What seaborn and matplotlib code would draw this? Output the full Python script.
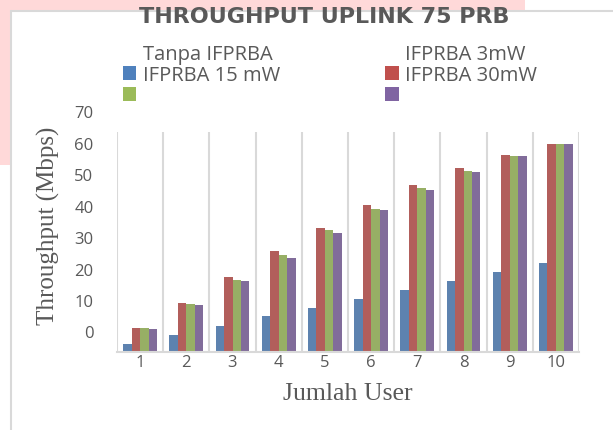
import matplotlib
matplotlib.use("Agg")
import matplotlib.pyplot as plt
import matplotlib.transforms as mtransforms
from matplotlib.patches import Rectangle, Patch
from matplotlib.legend_handler import HandlerPatch
import seaborn as sns
import pandas as pd

# ---- data ----
users = ["1", "2", "3", "4", "5", "6", "7", "8", "9", "10"]
series_names = ["Tanpa IFPRBA", "IFPRBA 3mW", "IFPRBA 15 mW", "IFPRBA 30mW"]
tanpa = [2.5, 5.3, 8.3, 11.3, 14.1, 16.9, 19.7, 22.6, 25.5, 28.2]
ifprba_3mw = [7.6, 15.5, 23.8, 32.2, 39.4, 46.7, 53.0, 58.5, 62.8, 66.3]
ifprba_15mw = [7.6, 15.2, 22.8, 30.9, 38.8, 45.6, 52.3, 57.7, 62.5, 66.3]
ifprba_30mw = [7.3, 14.9, 22.5, 29.8, 38.0, 45.3, 51.7, 57.4, 62.5, 66.3]
y_ticks = [0, 10, 20, 30, 40, 50, 60, 70]

colors = ["#4F81BD", "#C0504D", "#9BBB59", "#8064A2"]
GRAY_TXT = "#595959"
GRID = "#D9D9D9"

rows = []
for name, vals in zip(series_names, [tanpa, ifprba_3mw, ifprba_15mw, ifprba_30mw]):
    for u, v in zip(users, vals):
        rows.append({"User": u, "Throughput": v, "Series": name})
df = pd.DataFrame(rows)

sns.set_theme(style="white")
plt.rcParams["font.family"] = ["Open Sans", "DejaVu Sans"]

W, H = 613, 430
fig = plt.figure(figsize=(W / 100, H / 100), dpi=100)
fig.patch.set_facecolor("white")

# background decorations (pink page artefact + chart border)
fig.patches.append(Rectangle((0, 1 - 10 / H), 525 / W, 10 / H, transform=fig.transFigure,
                             facecolor="#FFD9D9", edgecolor="none", zorder=0))
fig.patches.append(Rectangle((0, 1 - 165 / H), 10 / W, 165 / H, transform=fig.transFigure,
                             facecolor="#FFD9D9", edgecolor="none", zorder=0))
fig.add_artist(plt.Line2D([10.5 / W, 1], [1 - 10.5 / H, 1 - 10.5 / H], transform=fig.transFigure,
                          color=GRID, lw=1.5))
fig.add_artist(plt.Line2D([10.5 / W, 10.5 / W], [0, 1 - 10.5 / H], transform=fig.transFigure,
                          color=GRID, lw=1.5))

ax = fig.add_axes([117 / W, 1 - 352 / H, (579 - 117) / W, (352 - 132) / H])
ax.set_facecolor("white")

sns.barplot(data=df, x="User", y="Throughput", hue="Series", order=users,
            hue_order=series_names, palette=colors, width=0.73, gap=0,
            linewidth=0, legend=False, ax=ax, errorbar=None)

ax.set_xlim(-0.5, 9.5)
ax.set_ylim(0, 70)
ax.set_yticks(y_ticks)
ax.set_yticklabels([str(t) for t in y_ticks])
ax.set_xticks(range(len(users)))
ax.set_xticklabels(users)
ax.set_xticks([i - 0.5 for i in range(len(users) + 1)], minor=True)
ax.grid(False)
ax.grid(True, which="minor", axis="x", color=GRID, lw=1.5)
for s in ["top", "right", "left"]:
    ax.spines[s].set_visible(False)
ax.spines["bottom"].set_color(GRID)
ax.spines["bottom"].set_linewidth(1.5)
ax.tick_params(axis="both", which="both", length=0)
ax.tick_params(axis="y", pad=17, labelsize=12, labelcolor=GRAY_TXT)
ax.tick_params(axis="x", pad=2, labelsize=12, labelcolor=GRAY_TXT)

# tick labels in the reference are shifted upwards
off = mtransforms.ScaledTranslation(0, 19.5 / 100, fig.dpi_scale_trans)
for lab in ax.get_yticklabels():
    lab.set_transform(lab.get_transform() + off)

ax.set_xlabel("Jumlah User", family=["Liberation Serif", "DejaVu Serif"], fontsize=18.5,
              color=GRAY_TXT, labelpad=9)
ax.set_ylabel("Throughput (Mbps)", family=["Liberation Serif", "DejaVu Serif"], fontsize=18,
              color=GRAY_TXT)
ax.yaxis.set_label_coords((60 - 117) / (579 - 117), 0.573)

fig.text(324.5 / W, 1 - 17 / H, "THROUGHPUT UPLINK 75 PRB", ha="center", va="center",
         family=["DejaVu Sans"], fontweight="bold", fontsize=16, color=GRAY_TXT)

# legend: markers sit one row below their labels, as in the reference
SHIFT = 14.5  # points


def shifted_patch(legend, orig_handle, xdescent, ydescent, width, height, fontsize):
    return Rectangle((-xdescent, -ydescent - SHIFT), width, height)


handles = [Patch(facecolor=c, edgecolor="none") for c in colors]
order = [0, 2, 1, 3]
leg = fig.legend([handles[i] for i in order], [series_names[i] for i in order],
                 ncol=2, loc="upper left", bbox_to_anchor=(122.5 / W, 1 - 45 / H),
                 frameon=False, fontsize=14.5, handlelength=0.68, handleheight=0.68,
                 handletextpad=0.33, columnspacing=5.2, labelspacing=0.05,
                 borderpad=0, borderaxespad=0,
                 handler_map={Patch: HandlerPatch(patch_func=shifted_patch)})
for t in leg.get_texts():
    t.set_color(GRAY_TXT)

fig.savefig("out.png", dpi=100, facecolor="white")
